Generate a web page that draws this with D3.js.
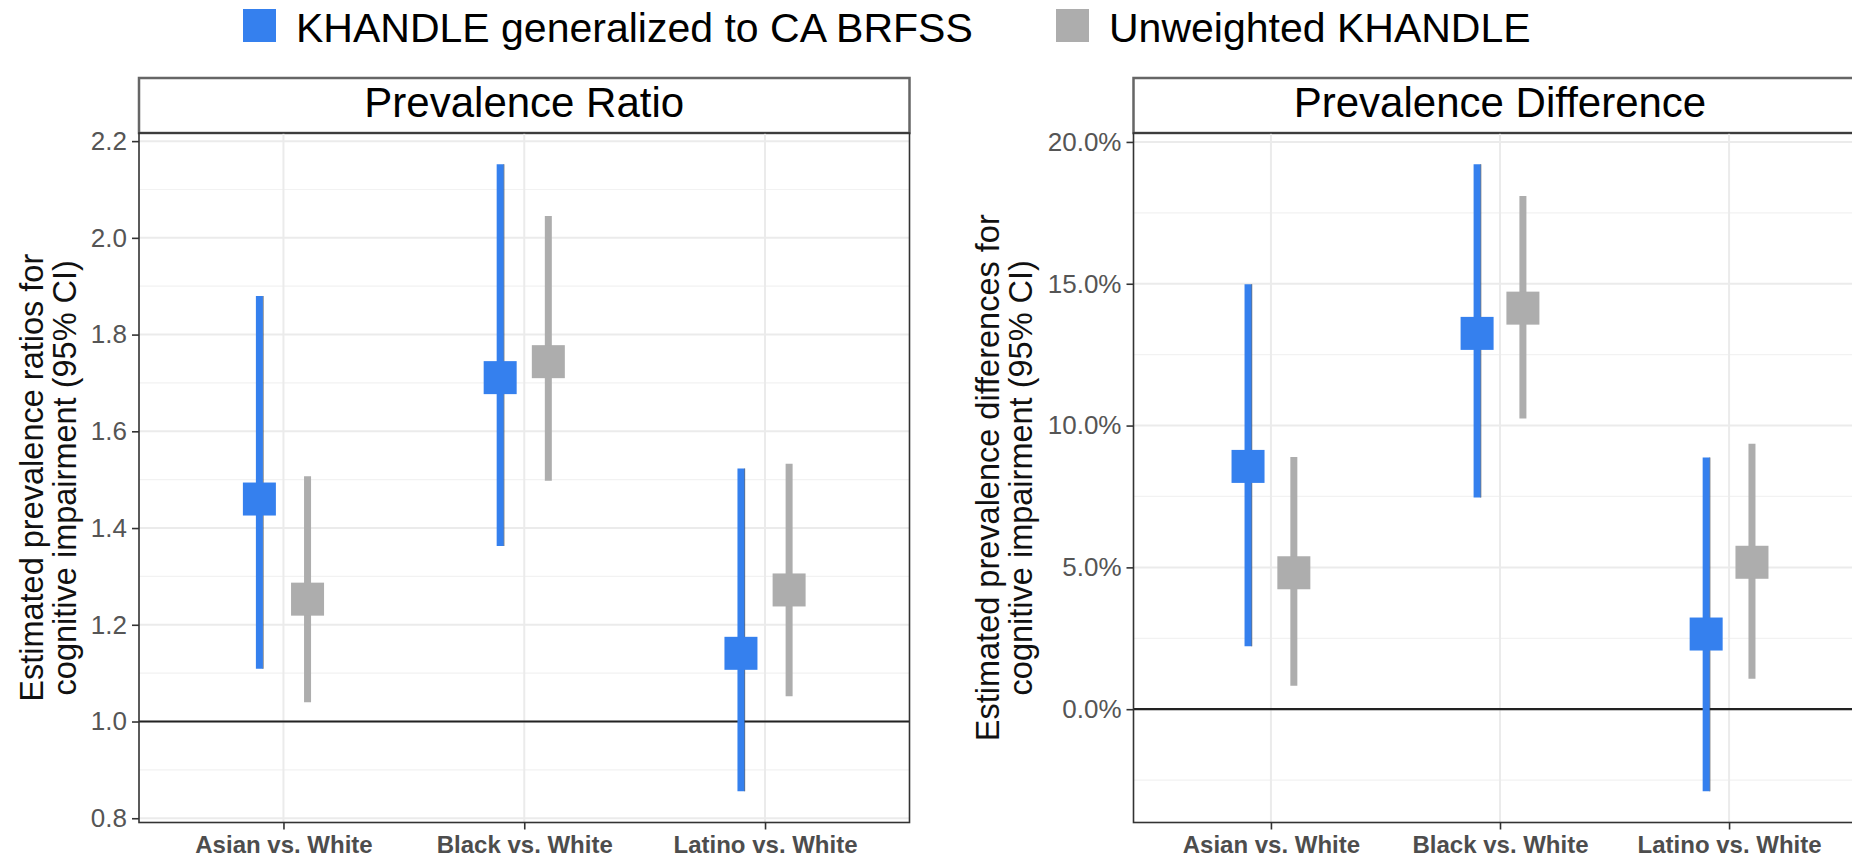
<!DOCTYPE html>
<html>
<head>
<meta charset="utf-8">
<script src="https://cdn.jsdelivr.net/npm/d3@7"></script>
<style>
  body { margin: 0; background: #fff; }
  svg { display: block; font-family: "Liberation Sans", Arial, sans-serif; }
</style>
</head>
<body>
<script>
// categories and series
var categories = ["Asian vs. White", "Black vs. White", "Latino vs. White"];
var seriesNames = ["KHANDLE generalized to CA BRFSS", "Unweighted KHANDLE"];
var seriesColors = ["#3580ee", "#adadad"];

// prevalence ratio (estimate, lower, upper)
var prWeightedEst  = [1.460, 1.711, 1.141];
var prWeightedLow  = [1.109, 1.363, 0.856];
var prWeightedHigh = [1.880, 2.152, 1.523];
var prUnweightedEst  = [1.253, 1.744, 1.272];
var prUnweightedLow  = [1.040, 1.498, 1.052];
var prUnweightedHigh = [1.507, 2.045, 1.533];
var prTicks = [0.8, 1.0, 1.2, 1.4, 1.6, 1.8, 2.0, 2.2];

// prevalence difference in percent (estimate, lower, upper)
var pdWeightedEst  = [8.56, 13.25, 2.65];
var pdWeightedLow  = [2.22, 7.46, -2.89];
var pdWeightedHigh = [14.98, 19.21, 8.87];
var pdUnweightedEst  = [4.81, 14.14, 5.18];
var pdUnweightedLow  = [0.83, 10.25, 1.07];
var pdUnweightedHigh = [8.89, 18.09, 9.36];
var pdTicks = [0, 5, 10, 15, 20];

var w = 1852, h = 860;

var svg = d3.select("body").append("svg")
    .attr("width", w)
    .attr("height", h);

// legend
var legend = svg.append("g");
var legendX = [243, 1056];
seriesNames.forEach(function(name, i) {
    legend.append("rect")
        .attr("x", legendX[i]).attr("y", 9)
        .attr("width", 33).attr("height", 33)
        .attr("fill", seriesColors[i]);
    legend.append("text")
        .attr("x", legendX[i] + 53).attr("y", 42)
        .attr("font-size", 41)
        .attr("fill", "#000")
        .text(name);
});

function drawPanel(opt) {
    var g = svg.append("g");
    var x0 = opt.left, x1 = opt.right, y0 = opt.top, y1 = opt.bottom;

    // ggplot-like 5% expansion of the data range
    var lo = d3.min(opt.low.concat(opt.lowU)), hi = d3.max(opt.high.concat(opt.highU));
    var pad = (hi - lo) * 0.05;
    var y = d3.scaleLinear().domain([lo - pad, hi + pad]).range([y1, y0]);
    var x = d3.scalePoint().domain(categories).range([x0, x1]).padding(0.6);
    var dodge = x.step() * 0.1;

    // strip
    g.append("rect")
        .attr("x", x0).attr("y", opt.stripTop)
        .attr("width", x1 - x0).attr("height", y0 - opt.stripTop)
        .attr("fill", "#fff").attr("stroke", "#666").attr("stroke-width", 2.5);
    g.append("text")
        .attr("x", (x0 + x1) / 2).attr("y", y0 - 16)
        .attr("text-anchor", "middle")
        .attr("font-size", 42)
        .text(opt.title);

    // minor grid
    var minor = d3.range(opt.ticks.length - 1).map(function(i) {
        return (opt.ticks[i] + opt.ticks[i + 1]) / 2;
    });
    minor.push(opt.ticks[0] - (opt.ticks[1] - opt.ticks[0]) / 2);
    minor = minor.filter(function(v) { return v > y.domain()[0] && v < y.domain()[1]; });
    g.selectAll(".minor").data(minor).enter().append("line")
        .attr("x1", x0).attr("x2", x1)
        .attr("y1", function(d) { return y(d); }).attr("y2", function(d) { return y(d); })
        .attr("stroke", "#f2f2f2").attr("stroke-width", 1.2);

    // major grid
    g.selectAll(".major").data(opt.ticks).enter().append("line")
        .attr("x1", x0).attr("x2", x1)
        .attr("y1", function(d) { return y(d); }).attr("y2", function(d) { return y(d); })
        .attr("stroke", "#ebebeb").attr("stroke-width", 2);
    g.selectAll(".vmajor").data(categories).enter().append("line")
        .attr("x1", function(d) { return x(d); }).attr("x2", function(d) { return x(d); })
        .attr("y1", y0).attr("y2", y1)
        .attr("stroke", "#ebebeb").attr("stroke-width", 2);

    // reference line
    g.append("line")
        .attr("x1", x0).attr("x2", x1)
        .attr("y1", y(opt.ref)).attr("y2", y(opt.ref))
        .attr("stroke", "#222").attr("stroke-width", 2.2);

    // series
    var series = [
        {est: opt.est, low: opt.low, high: opt.high, color: seriesColors[0], off: -dodge, edge: true},
        {est: opt.estU, low: opt.lowU, high: opt.highU, color: seriesColors[1], off: dodge, edge: false}
    ];
    series.forEach(function(s) {
        var sg = g.append("g");
        if (s.edge) {
            // thin dark edge seen along the blue bars
            sg.selectAll(".edge").data(categories).enter().append("line")
                .attr("x1", function(d) { return x(d) + s.off + 3.6; })
                .attr("x2", function(d) { return x(d) + s.off + 3.6; })
                .attr("y1", function(d, i) { return y(s.low[i]); })
                .attr("y2", function(d, i) { return y(s.high[i]); })
                .attr("stroke", "#2a2a2a").attr("stroke-opacity", 0.7).attr("stroke-width", 1.2);
        }
        sg.selectAll(".bar").data(categories).enter().append("line")
            .attr("x1", function(d) { return x(d) + s.off; })
            .attr("x2", function(d) { return x(d) + s.off; })
            .attr("y1", function(d, i) { return y(s.low[i]); })
            .attr("y2", function(d, i) { return y(s.high[i]); })
            .attr("stroke", s.color).attr("stroke-width", 7);
        sg.selectAll("rect").data(categories).enter().append("rect")
            .attr("x", function(d) { return x(d) + s.off - 16.5; })
            .attr("y", function(d, i) { return y(s.est[i]) - 16.5; })
            .attr("width", 33).attr("height", 33)
            .attr("fill", s.color);
    });

    // panel border
    g.append("rect")
        .attr("x", x0).attr("y", y0)
        .attr("width", x1 - x0).attr("height", y1 - y0)
        .attr("fill", "none").attr("stroke", "#333").attr("stroke-width", 1.6);

    // axes
    var yAxis = g.append("g")
        .attr("transform", "translate(" + x0 + ",0)")
        .call(d3.axisLeft(y).tickValues(opt.ticks).tickSize(7).tickPadding(5).tickFormat(opt.fmt));
    yAxis.select(".domain").remove();
    yAxis.selectAll(".tick line").attr("stroke", "#333").attr("stroke-width", 1.6);
    yAxis.selectAll(".tick text").attr("font-size", 26).attr("fill", "#555")
        .attr("font-family", "'Liberation Sans', Arial, sans-serif");

    var xAxis = g.append("g")
        .attr("transform", "translate(0," + y1 + ")")
        .call(d3.axisBottom(x).tickSize(7).tickPadding(6));
    xAxis.select(".domain").remove();
    xAxis.selectAll(".tick line").attr("stroke", "#333").attr("stroke-width", 1.6);
    xAxis.selectAll(".tick text").attr("font-size", 24).attr("font-weight", "bold")
        .attr("fill", "#4d4d4d")
        .attr("font-family", "'Liberation Sans', Arial, sans-serif");

    // y title, two lines
    var t = g.append("text")
        .attr("transform", "translate(" + opt.titleX + "," + ((y0 + y1) / 2) + ") rotate(-90)")
        .attr("text-anchor", "middle")
        .attr("font-size", 32.5)
        .attr("fill", "#111");
    t.append("tspan").attr("x", 0).attr("y", 0).text(opt.ytitle[0]);
    t.append("tspan").attr("x", 0).attr("y", 33).text(opt.ytitle[1]);
}

drawPanel({
    left: 139, right: 909.5, top: 133, bottom: 822.5, stripTop: 78,
    title: "Prevalence Ratio",
    est: prWeightedEst, low: prWeightedLow, high: prWeightedHigh,
    estU: prUnweightedEst, lowU: prUnweightedLow, highU: prUnweightedHigh,
    ticks: prTicks, ref: 1.0,
    fmt: d3.format(".1f"),
    titleX: 43,
    ytitle: ["Estimated prevalence ratios for", "cognitive impairment (95% CI)"]
});

drawPanel({
    left: 1133.5, right: 1866.5, top: 133, bottom: 822.5, stripTop: 78,
    title: "Prevalence Difference",
    est: pdWeightedEst, low: pdWeightedLow, high: pdWeightedHigh,
    estU: pdUnweightedEst, lowU: pdUnweightedLow, highU: pdUnweightedHigh,
    ticks: pdTicks, ref: 0,
    fmt: function(d) { return d3.format(".1f")(d) + "%"; },
    titleX: 999,
    ytitle: ["Estimated prevalence differences for", "cognitive impairment (95% CI)"]
});
</script>
</body>
</html>
